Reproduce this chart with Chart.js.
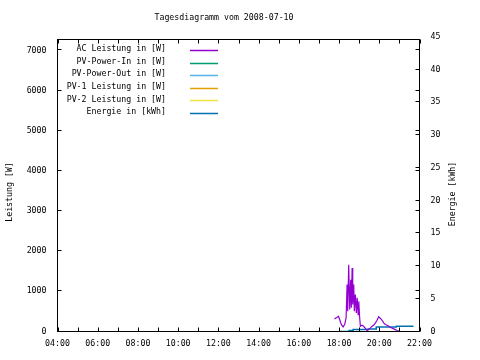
<!DOCTYPE html>
<html>
<head>
<meta charset="utf-8">
<script src="https://cdn.jsdelivr.net/npm/chart.js@4"></script>
<style>
html,body{margin:0;padding:0;background:#fff;}
canvas{display:block;}
</style>
</head>
<body>
<canvas id="c" width="480" height="360"></canvas>
<script>
// ---- data ----
const titleText = 'Tagesdiagramm vom 2008-07-10';
const seriesNames = ['AC Leistung in [W]', 'PV-Power-In in [W]', 'PV-Power-Out in [W]', 'PV-1 Leistung in [W]', 'PV-2 Leistung in [W]', 'Energie in [kWh]'];
const seriesColors = ['#9400d3', '#009e73', '#56b4e9', '#e69f00', '#f0e442', '#0072b2'];

const acHours = [17.77, 17.87, 17.97, 18.03, 18.11, 18.20, 18.28, 18.35, 18.40, 18.43, 18.48, 18.53, 18.58, 18.61, 18.65, 18.68, 18.73, 18.76, 18.81, 18.86, 18.90, 18.95, 18.98, 19.02, 19.06, 19.14, 19.22, 19.31, 19.39, 19.47, 19.56, 19.64, 19.72, 19.81, 19.89, 19.97, 20.06, 20.14, 20.22, 20.30, 20.39, 20.47, 20.55, 20.72, 20.89, 21.01];
const acWatts = [315, 340, 380, 300, 175, 115, 175, 340, 1170, 505, 1665, 550, 1290, 590, 1580, 670, 1170, 505, 920, 460, 840, 420, 750, 380, 130, 155, 130, 75, 25, 50, 90, 130, 155, 215, 280, 365, 325, 280, 215, 175, 155, 130, 105, 65, 25, 0];

const energyHours = [18.0, 18.5, 18.7, 19.45, 19.85, 20.85, 21.7];
const energyKWh = [0, 0.15, 0.3, 0.4, 0.7, 0.8, 0.8];

const leftTicks = [0, 1000, 2000, 3000, 4000, 5000, 6000, 7000];
const rightTicks = [0, 5, 10, 15, 20, 25, 30, 35, 40, 45];
const timeTicks = [4, 6, 8, 10, 12, 14, 16, 18, 20, 22];
const timeMinorTicks = [4, 5, 6, 7, 8, 9, 10, 11, 12, 13, 14, 15, 16, 17, 18, 19, 20, 21, 22];

const leftTitle = 'Leistung [W]';
const rightTitle = 'Energie [kWh]';

// ---- chart ----
const FONT = 'DejaVu Sans Mono';
const FS = 8.25;

const datasets = [
  {label: seriesNames[0], data: acHours.map((h, i) => ({x: h, y: acWatts[i]})), yAxisID: 'y', borderColor: seriesColors[0]},
  {label: seriesNames[1], data: [], yAxisID: 'y', borderColor: seriesColors[1]},
  {label: seriesNames[2], data: [], yAxisID: 'y', borderColor: seriesColors[2]},
  {label: seriesNames[3], data: [], yAxisID: 'y', borderColor: seriesColors[3]},
  {label: seriesNames[4], data: [], yAxisID: 'y', borderColor: seriesColors[4]},
  {label: seriesNames[5], data: energyHours.map((h, i) => ({x: h, y: energyKWh[i]})), yAxisID: 'y2', borderColor: seriesColors[5], stepped: true, borderWidth: 1.5}
].map(d => Object.assign({borderWidth: 1.2, pointRadius: 0, fill: false, tension: 0}, d));

const decor = {
  id: 'decor',
  afterDraw(chart) {
    const ctx = chart.ctx;
    const a = chart.chartArea;
    const sx = chart.scales.x, sy = chart.scales.y, sy2 = chart.scales.y2;
    ctx.save();
    ctx.strokeStyle = '#000';
    ctx.lineWidth = 1;
    // frame
    ctx.strokeRect(a.left, a.top, a.right - a.left, a.bottom - a.top);
    // tick marks (inward, mirrored like gnuplot)
    ctx.beginPath();
    const TL = 4;
    timeMinorTicks.forEach(v => {
      const px = Math.round(sx.getPixelForValue(v)) + 0.5;
      ctx.moveTo(px, a.bottom); ctx.lineTo(px, a.bottom - TL);
      ctx.moveTo(px, a.top); ctx.lineTo(px, a.top + TL);
    });
    leftTicks.forEach(v => {
      const py = Math.round(sy.getPixelForValue(v)) - 0.5;
      ctx.moveTo(a.left, py); ctx.lineTo(a.left + TL, py);
      ctx.moveTo(a.right, py); ctx.lineTo(a.right - TL, py);
    });
    rightTicks.forEach(v => {
      const py = Math.round(sy2.getPixelForValue(v)) - 0.5;
      if (py < a.top || py > a.bottom) return;
      ctx.moveTo(a.right, py); ctx.lineTo(a.right - TL, py);
    });
    ctx.stroke();

    ctx.fillStyle = '#000';
    ctx.font = FS + 'px "' + FONT + '"';
    ctx.textBaseline = 'middle';
    // title
    ctx.textAlign = 'center';
    ctx.fillText(titleText, 224, 18);
    // axis titles
    ctx.save();
    ctx.translate(10, 192);
    ctx.rotate(-Math.PI / 2);
    ctx.fillText(leftTitle, 0, 0);
    ctx.restore();
    ctx.save();
    ctx.translate(453, 194);
    ctx.rotate(-Math.PI / 2);
    ctx.fillText(rightTitle, 0, 0);
    ctx.restore();
    // legend
    chart.data.datasets.forEach((d, i) => {
      const y = 49 + i * 12.6;
      ctx.textAlign = 'right';
      ctx.fillStyle = '#000';
      ctx.fillText(d.label, 166, y);
      ctx.strokeStyle = d.borderColor;
      ctx.lineWidth = 1.5;
      ctx.beginPath();
      const ly = Math.round(y + 1) + 0.5;
      ctx.moveTo(190, ly); ctx.lineTo(218, ly);
      ctx.stroke();
    });
    ctx.restore();
  }
};

const tickFont = {family: FONT, size: FS};
new Chart(document.getElementById('c'), {
  type: 'line',
  data: {datasets},
  options: {
    responsive: false,
    animation: false,
    devicePixelRatio: 1,
    layout: {padding: {top: 39.5, left: 0, right: 0, bottom: 0}},
    plugins: {legend: {display: false}, title: {display: false}, tooltip: {enabled: false}},
    scales: {
      x: {
        type: 'linear', min: 4, max: 22,
        grid: {display: false, drawTicks: false},
        border: {display: false},
        afterBuildTicks: s => { s.ticks = timeTicks.map(v => ({value: v})); },
        afterFit: s => { s.height = 28.5; },
        ticks: {font: tickFont, color: '#000', padding: 7, maxRotation: 0, autoSkip: false,
          callback: v => String(v).padStart(2, '0') + ':00'}
      },
      y: {
        type: 'linear', position: 'left', min: 0, max: 7274,
        grid: {display: false, drawTicks: false},
        border: {display: false},
        afterBuildTicks: s => { s.ticks = leftTicks.map(v => ({value: v})); },
        afterFit: s => { s.width = 57.5; },
        ticks: {font: tickFont, color: '#000', padding: 11, autoSkip: false, callback: v => String(v)}
      },
      y2: {
        type: 'linear', position: 'right', min: 0, max: 44.6,
        grid: {display: false, drawTicks: false},
        border: {display: false},
        afterBuildTicks: s => { s.ticks = rightTicks.map(v => ({value: v})); },
        afterFit: s => { s.width = 60.5; },
        ticks: {font: tickFont, color: '#000', padding: 11, autoSkip: false, callback: v => String(v)}
      }
    }
  },
  plugins: [decor]
});
</script>
</body>
</html>
